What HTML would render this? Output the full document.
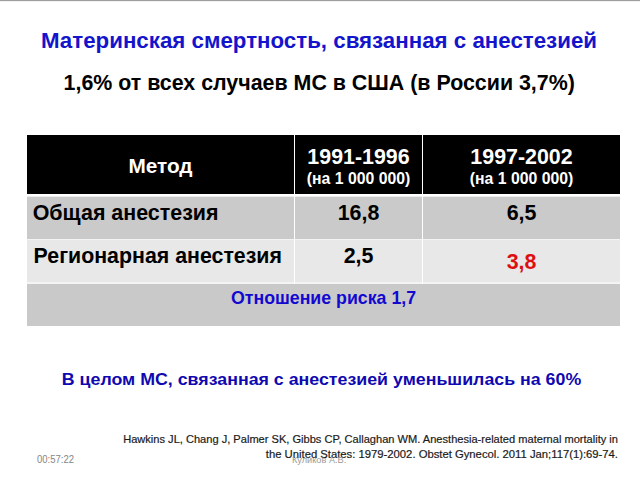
<!DOCTYPE html>
<html>
<head>
<meta charset="utf-8">
<style>
html,body{margin:0;padding:0;background:#fff;}
body{width:640px;height:481px;position:relative;overflow:hidden;font-family:"Liberation Sans",sans-serif;}
.t{position:absolute;white-space:nowrap;line-height:1;font-weight:bold;}
#topline{position:absolute;left:0;top:0;width:640px;height:1px;background:#9e9e9e;border-bottom:1px solid #f2f2f2;}
#title{left:-1px;width:640px;text-align:center;top:30.4px;font-size:22.3px;color:#1414cc;}
#sub{left:-0.8px;width:640px;text-align:center;top:73.3px;font-size:21.4px;color:#000;}
.cell{position:absolute;}
#hdr{left:27px;top:135px;width:593px;height:59px;background:#000;}
#r1{left:27px;top:196px;width:593px;height:43px;background:#cacaca;}
#r2{left:27px;top:240px;width:593px;height:42px;background:#e8e8e8;}
#r3{left:27px;top:284px;width:593px;height:42px;background:#c9c9c9;}
.vl{position:absolute;width:1px;background:#fff;}
#v1{left:294px;top:135px;height:149px;}
#v2{left:422px;top:135px;height:149px;}
#hline{position:absolute;left:27px;top:194px;width:593px;height:2px;background:#fff;border-bottom:1px solid #ececec;}
#l2{position:absolute;left:27px;top:239px;width:593px;height:1px;background:#f4f4f4;}
#l3{position:absolute;left:27px;top:282px;width:593px;height:2px;background:#f4f4f4;}
.w{color:#fff;}
.c1{left:27px;width:267px;text-align:center;}
.c2{left:295px;width:127px;text-align:center;}
.c3{left:423px;width:197px;text-align:center;}
#metod{top:156px;font-size:20.8px;}
#y1{top:146.5px;font-size:21.4px;transform:scaleY(1.06);transform-origin:50% 84.65%;}
#y2{top:146.5px;font-size:21.4px;transform:scaleY(1.06);transform-origin:50% 84.65%;}
#n1{top:171px;font-size:15.8px;}
#n2{top:171px;font-size:15.8px;}
#oa{left:32.7px;top:203px;font-size:21.45px;}
#ra{left:33.6px;top:246px;font-size:21.35px;}
#v168{top:203px;font-size:21.4px;}
#v65{top:203px;font-size:21.4px;}
#v25{top:246px;font-size:21.4px;}
#v38{top:252px;font-size:21.4px;color:#dd1010;transform:scaleY(1.05);transform-origin:50% 84.65%;}
#risk{left:27px;width:593px;text-align:center;top:289.7px;font-size:17.75px;color:#1208d0;}
#bottom{left:0;width:643px;text-align:center;top:370.5px;font-size:17.8px;color:#1008b0;transform:scaleY(0.95);transform-origin:50% 84.65%;}
.cite{position:absolute;right:22px;white-space:nowrap;color:#1a1a1a;line-height:1;text-align:right;-webkit-text-stroke:0.2px #1a1a1a;transform:scaleY(0.92);transform-origin:100% 84.65%;}
#c1{top:433.5px;font-size:11.08px;}
#c2{top:448.8px;font-size:11.28px;}
#time{position:absolute;left:37px;top:455px;font-size:9.5px;color:#858585;line-height:1;white-space:nowrap;transform:scaleY(1.15);transform-origin:0 84.65%;}
#auth{position:absolute;left:292px;top:456px;font-size:9.2px;transform:scaleY(0.92);transform-origin:0 84.65%;color:#9a9a9a;line-height:1;white-space:nowrap;}
</style>
</head>
<body>
<div id="topline"></div>
<div class="t" id="title">Материнская смертность, связанная с анестезией</div>
<div class="t" id="sub">1,6% от всех случаев МС в США (в России 3,7%)</div>

<div class="cell" id="hdr"></div>
<div class="cell" id="r1"></div>
<div class="cell" id="r2"></div>
<div class="cell" id="r3"></div>
<div id="hline"></div>
<div id="l2"></div>
<div id="l3"></div>
<div class="vl" id="v1"></div>
<div class="vl" id="v2"></div>

<div class="t w c1" id="metod">Метод</div>
<div class="t w c2" id="y1">1991-1996</div>
<div class="t w c2" id="n1">(на 1 000 000)</div>
<div class="t w c3" id="y2">1997-2002</div>
<div class="t w c3" id="n2">(на 1 000 000)</div>

<div class="t" id="oa">Общая анестезия</div>
<div class="t c2" id="v168">16,8</div>
<div class="t c3" id="v65">6,5</div>
<div class="t" id="ra">Регионарная анестезия</div>
<div class="t c2" id="v25">2,5</div>
<div class="t c3" id="v38">3,8</div>
<div class="t" id="risk">Отношение риска 1,7</div>

<div class="t" id="bottom">В целом МС, связанная с анестезией уменьшилась на 60%</div>

<div class="cite" id="c1">Hawkins JL, Chang J, Palmer SK, Gibbs CP, Callaghan WM. Anesthesia-related maternal mortality in</div>
<div class="cite" id="c2">the United States: 1979-2002. Obstet Gynecol. 2011 Jan;117(1):69-74.</div>
<div id="time">00:57:22</div>
<div id="auth">Куликов А.В.</div>
</body>
</html>
